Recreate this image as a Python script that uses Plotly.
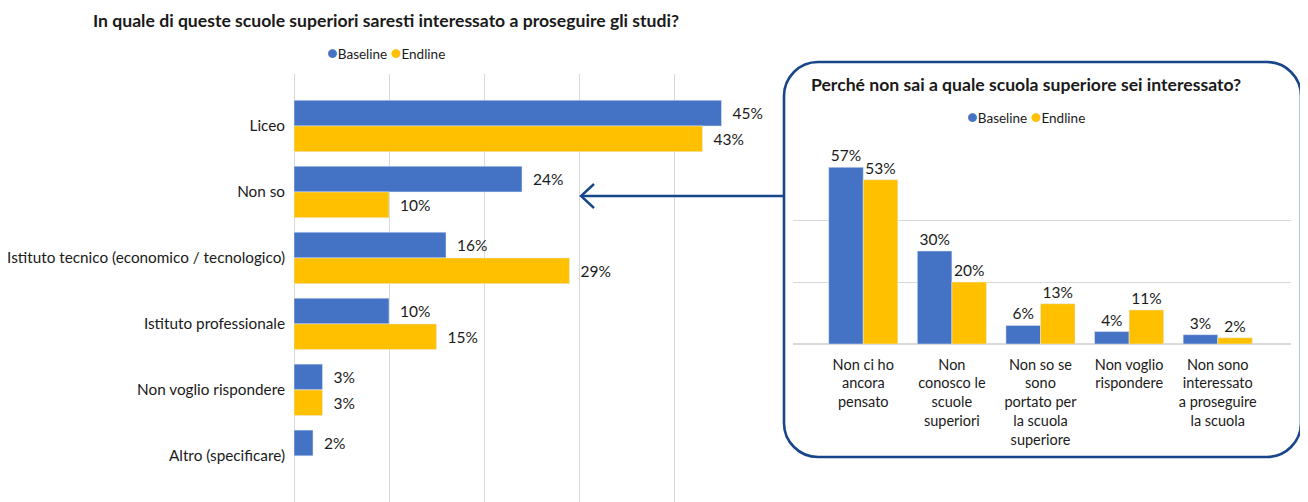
import plotly.graph_objects as go

# page body has an 8px margin: figure is placed at (8, 8)
OX, OY = 8, 8
W, H = 1300, 494
BLUE = "#4472C4"
YEL = "#FFC000"
FONT = "Lato"
TXT = "#1a1a1a"
GRID = "#D9D9D9"
BOX = "#17468A"

series_names = ["Baseline", "Endline"]

left_title = "In quale di queste scuole superiori saresti interessato a proseguire gli studi?"
left_categories = ["Liceo", "Non so", "Istituto tecnico (economico / tecnologico)",
                   "Istituto professionale", "Non voglio rispondere", "Altro (specificare)"]
left_baseline = [45, 24, 16, 10, 3, 2]
left_endline = [43, 10, 29, 15, 3, None]

right_title = "Perché non sai a quale scuola superiore sei interessato?"
right_categories = ["Non ci ho<br>ancora<br>pensato",
                    "Non<br>conosco le<br>scuole<br>superiori",
                    "Non so se<br>sono<br>portato per<br>la scuola<br>superiore",
                    "Non voglio<br>rispondere",
                    "Non sono<br>interessato<br>a proseguire<br>la scuola"]
right_baseline = [57, 30, 6, 4, 3]
right_endline = [53, 20, 13, 11, 2]


def px(x):
    return (x - OX) / W


def py(y):
    return 1 - (y - OY) / H


fig = go.Figure()
for name, vals, col in zip(series_names, [left_baseline, left_endline], [BLUE, YEL]):
    fig.add_trace(go.Bar(
        y=left_categories, x=vals, orientation="h", name=name, marker_color=col,
        texttemplate="\u00a0\u00a0%{x}%", textposition="outside", constraintext="none",
        textfont=dict(size=15.5, color=TXT, family=FONT), cliponaxis=False,
        showlegend=False, xaxis="x", yaxis="y"))

for name, vals, col in zip(series_names, [right_baseline, right_endline], [BLUE, YEL]):
    fig.add_trace(go.Bar(
        x=right_categories, y=vals, name=name, marker_color=col,
        texttemplate="%{y}%", textposition="outside", constraintext="none",
        textfont=dict(size=15.5, color=TXT, family=FONT), cliponaxis=False,
        showlegend=False, xaxis="x2", yaxis="y2"))


def rounded_path(x0, y0, x1, y1, r):
    k = 0.5523 * r
    pts = []
    pts.append(f"M {px(x0 + r)} {py(y0)}")
    pts.append(f"L {px(x1 - r)} {py(y0)}")
    pts.append(f"C {px(x1 - r + k)} {py(y0)} {px(x1)} {py(y0 + r - k)} {px(x1)} {py(y0 + r)}")
    pts.append(f"L {px(x1)} {py(y1 - r)}")
    pts.append(f"C {px(x1)} {py(y1 - r + k)} {px(x1 - r + k)} {py(y1)} {px(x1 - r)} {py(y1)}")
    pts.append(f"L {px(x0 + r)} {py(y1)}")
    pts.append(f"C {px(x0 + r - k)} {py(y1)} {px(x0)} {py(y1 - r + k)} {px(x0)} {py(y1 - r)}")
    pts.append(f"L {px(x0)} {py(y0 + r)}")
    pts.append(f"C {px(x0)} {py(y0 + r - k)} {px(x0 + r - k)} {py(y0)} {px(x0 + r)} {py(y0)}")
    pts.append("Z")
    return " ".join(pts)


shapes = [
    dict(type="path", xref="paper", yref="paper", path=rounded_path(784, 62, 1301, 457, 34),
         line=dict(color=BOX, width=2.6), fillcolor="rgba(0,0,0,0)", layer="below"),
    dict(type="line", xref="paper", yref="paper", x0=px(783), y0=py(196), x1=px(581), y1=py(196),
         line=dict(color=BOX, width=2.4)),
    dict(type="path", xref="paper", yref="paper",
         path=f"M {px(594)} {py(184)} L {px(581)} {py(196)} L {px(594)} {py(208)}",
         line=dict(color=BOX, width=2.4)),
]

legend_text = (f"<span style='color:{BLUE};font-size:18px'>●</span>Baseline "
               f"<span style='color:{YEL};font-size:18px'>●</span>Endline")

annotations = [
    dict(text=f"<b>{left_title}</b>", x=px(386), y=py(20), xref="paper", yref="paper",
         showarrow=False, font=dict(size=17.6, color=TXT, family=FONT), xanchor="center", yanchor="middle"),
    dict(text=legend_text, x=px(386), y=py(52), xref="paper", yref="paper",
         showarrow=False, font=dict(size=13.5, color=TXT, family=FONT), xanchor="center", yanchor="middle"),
    dict(text=f"<b>{right_title}</b>", x=px(1026), y=py(85), xref="paper", yref="paper",
         showarrow=False, font=dict(size=17.6, color=TXT, family=FONT), xanchor="center", yanchor="middle"),
    dict(text=legend_text, x=px(1026), y=py(116), xref="paper", yref="paper",
         showarrow=False, font=dict(size=13.5, color=TXT, family=FONT), xanchor="center", yanchor="middle"),
]

fig.update_layout(
    width=W, height=H, margin=dict(l=0, r=0, t=0, b=0),
    paper_bgcolor="white", plot_bgcolor="white",
    barmode="group", bargap=0.22, bargroupgap=0,
    font=dict(family=FONT, color=TXT, size=14),
    showlegend=False,
    shapes=shapes, annotations=annotations,
    xaxis=dict(domain=[px(294), px(769)], range=[0, 50], tickvals=[0, 10, 20, 30, 40],
               showticklabels=False, showgrid=True, gridcolor=GRID, gridwidth=1,
               zeroline=True, zerolinecolor=GRID, zerolinewidth=1, anchor="y", fixedrange=True),
    yaxis=dict(domain=[0, py(74)], range=[5.70, -0.788], type="category",
               categoryorder="array", categoryarray=left_categories,
               showgrid=False, zeroline=False, ticks="", ticklabelstandoff=8,
               tickfont=dict(size=15.3, color=TXT, family=FONT), anchor="x"),
    xaxis2=dict(domain=[px(793), px(1291)], range=[-0.793, 4.827], type="category",
                categoryorder="array", categoryarray=right_categories,
                showgrid=False, ticks="", ticklabelstandoff=10,
                tickfont=dict(size=14.5, color=TXT, family=FONT), anchor="y2"),
    yaxis2=dict(domain=[py(344), py(158)], range=[0, 60], tickvals=[0, 20, 40, 60],
                showticklabels=False, showgrid=True, gridcolor=GRID, gridwidth=1,
                zeroline=True, zerolinecolor=GRID, zerolinewidth=1.5, anchor="x2"),
)

fig.write_html("out.html")
